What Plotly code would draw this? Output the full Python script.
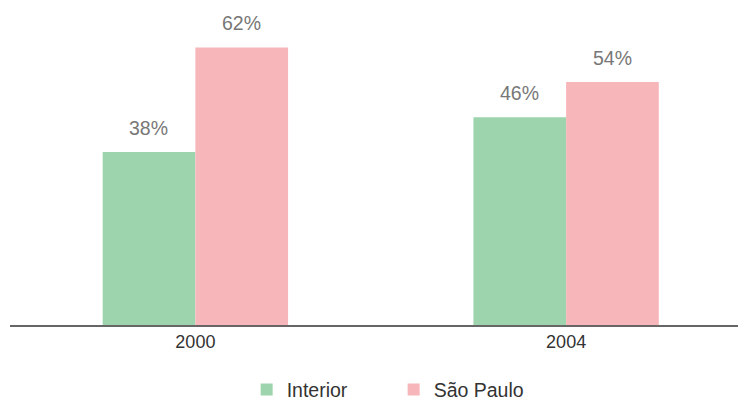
import plotly.graph_objects as go

years = ["2000", "2004"]
interior = [38.4, 46.1]
sao_paulo = [61.6, 53.9]
interior_labels = ["38%", "46%"]
sao_paulo_labels = ["62%", "54%"]
series_names = ["Interior", "São Paulo"]
colors = ["#9dd4ad", "#f7b6ba"]

FONT = "Liberation Sans"

fig = go.Figure()
for name, vals, col in zip(series_names, [interior, sao_paulo], colors):
    fig.add_trace(go.Bar(x=years, y=vals, name=name, marker_color=col,
                         marker_line_width=0, hoverinfo="skip"))

shifts = [-46.5, 46.5]
for vals, labels, sh in zip([interior, sao_paulo], [interior_labels, sao_paulo_labels], shifts):
    for i, (v, lab) in enumerate(zip(vals, labels)):
        fig.add_annotation(x=i, y=v, xref="x", yref="y", text=lab,
                           showarrow=False, xshift=sh, yshift=24,
                           font=dict(family=FONT, size=19.5, color="#777777"))

fig.update_layout(
    width=738, height=403,
    margin=dict(l=9.5, r=0, t=10, b=78, autoexpand=False),
    paper_bgcolor="white", plot_bgcolor="white",
    barmode="group", bargap=0.5, bargroupgap=0,
    showlegend=True,
    legend=dict(orientation="h", x=0.527, xanchor="center", y=-0.206, yanchor="middle",
                font=dict(family=FONT, size=19.5, color="#333333"),
                entrywidth=102, entrywidthmode="pixels",
                traceorder="normal"),
    xaxis=dict(type="category", range=[-0.5, 1.4636], showgrid=False, showline=True,
               linecolor="#666666", linewidth=1.5, ticks="", automargin=False,
               tickfont=dict(family=FONT, size=18, color="#333333")),
    yaxis=dict(range=[0, 69.9], visible=False, showgrid=False, zeroline=False),
)

post = ("document.body.style.margin='0';document.body.style.padding='0';"
        "document.documentElement.style.overflow='hidden';")
fig.write_html("out.html", post_script=post, config={"displayModeBar": False})
